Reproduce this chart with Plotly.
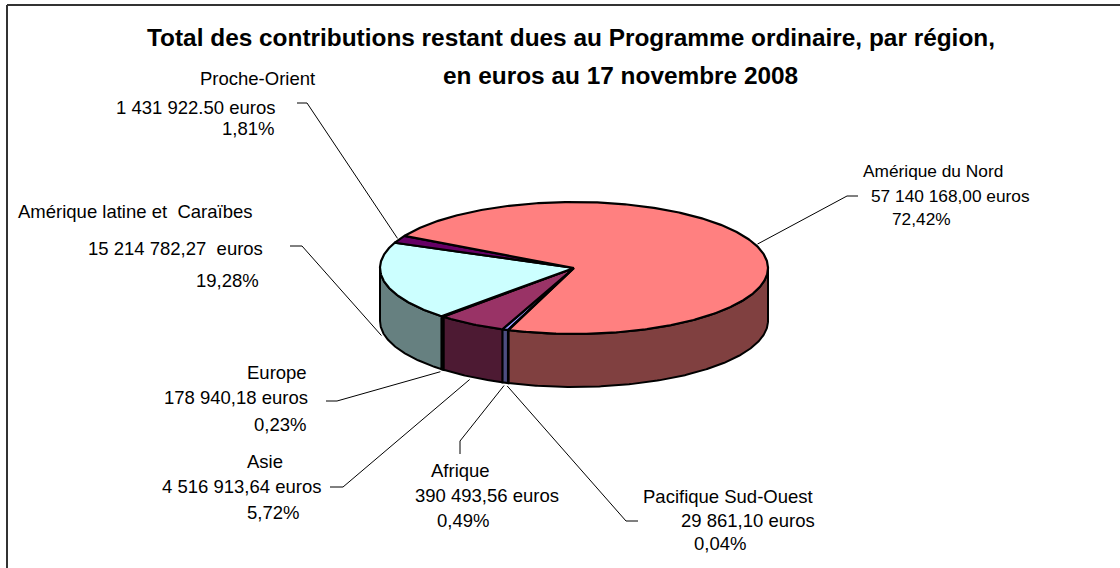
import math
import plotly.graph_objects as go

# ---------------- data ----------------
regions = ["Afrique", "Asie", "Europe", "Amérique latine et  Caraïbes",
           "Proche-Orient", "Amérique du Nord", "Pacifique Sud-Ouest"]
values = [390493.56, 4516913.64, 178940.18, 15214782.27,
          1431922.50, 57140168.00, 29861.10]
value_labels = ["390 493,56 euros", "4 516 913,64 euros", "178 940,18 euros",
                "15 214 782,27  euros", "1 431 922.50 euros",
                "57 140 168,00 euros", "29 861,10 euros"]
pct_labels = ["0,49%", "5,72%", "0,23%", "19,28%", "1,81%", "72,42%", "0,04%"]
top_colors = ["#9999FF", "#993366", "#FFFFCC", "#CCFFFF", "#660066", "#FF8080", "#0066CC"]
side_colors = ["#4D4D80", "#4D1A33", "#808066", "#668080", "#330033", "#804040", "#003366"]

title_line1 = "Total des contributions restant dues au Programme ordinaire, par région,"
title_line2 = "en euros au 17 novembre 2008"

# ---------------- geometry (pixel space) ----------------
W, H = 1120, 568
CX, CY = 574, 268      # pie centre
RA, RB = 194, 66       # ellipse semi-axes
DEPTH = 53
START = 199.9          # first slice start angle (deg, clockwise from back)

total = sum(values)
angles = []
acc = START
for v in values:
    span = v / total * 360.0
    angles.append((acc, acc + span))
    acc += span


def pt(theta, dy=0.0, ea=0.0, eb=0.0):
    t = math.radians(theta)
    return CX + (RA + ea) * math.sin(t), CY - (RB + eb) * math.cos(t) + dy


def arc(s, e, dy=0.0):
    n = max(2, int(abs(e - s) * 2) + 2)
    xs, ys = [], []
    for i in range(n + 1):
        th = s + (e - s) * i / n
        x, y = pt(th, dy)
        xs.append(x)
        ys.append(y)
    return xs, ys


fig = go.Figure()

# side walls (front-facing part of the cylinder: 90..270 deg)
for i, (s, e) in enumerate(angles):
    for k in (0, 1):
        lo, hi = max(s, 90 + 360 * k), min(e, 270 + 360 * k)
        if hi > lo:
            tx, ty = arc(lo, hi)
            bx, by = arc(hi, lo, DEPTH)
            fig.add_trace(go.Scatter(
                x=tx + bx + [tx[0]], y=ty + by + [ty[0]],
                mode="lines", fill="toself", fillcolor=side_colors[i],
                line=dict(color="black", width=2), hoverinfo="skip"))

# top faces
for i, (s, e) in enumerate(angles):
    ax, ay = arc(s, e)
    fig.add_trace(go.Scatter(
        x=[CX] + ax + [CX], y=[CY] + ay + [CY],
        mode="lines", fill="toself", fillcolor=top_colors[i],
        line=dict(color="black", width=2.2), hoverinfo="skip"))

# ---------------- labels (layout positions) ----------------
FS = 18.5
label_layout = {
    # region: [(centre x, baseline y) for name, value, pct], elbow points, font size
    "Afrique": ([(460, 477), (487, 502), (463, 527)], [(460, 454), (460, 441)], FS),
    "Asie": ([(265, 468), (241, 493), (273, 519)], [(330, 487), (343, 487)], FS),
    "Europe": ([(277, 379), (236, 404), (280, 431)], [(326, 401), (337, 401)], FS),
    "Amérique latine et  Caraïbes": ([(135, 218), (175, 255), (227, 287)], [(290, 246), (302, 246)], FS),
    "Proche-Orient": ([(257, 85), (195, 114), (248, 135)], [(297, 103), (307, 103)], FS),
    "Amérique du Nord": ([(933, 177), (950, 202), (921, 225)], [(858, 196), (847, 196)], 17.3),
    "Pacifique Sud-Ouest": ([(728, 503), (748, 527), (720, 550)], [(638, 521), (626, 521)], FS),
}

annotations = []
for i, r in enumerate(regions):
    lines, elbow, fs = label_layout[r]
    texts = [r, value_labels[i], pct_labels[i]]
    for (lx, ly), t in zip(lines, texts):
        annotations.append(dict(
            x=lx, y=ly - 0.3465 * fs, xref="x", yref="y", text=t, showarrow=False,
            xanchor="center", yanchor="middle",
            font=dict(family="Liberation Sans, Arial", size=fs, color="black")))
    s, e = angles[i]
    mid = (s + e) / 2
    if math.cos(math.radians(mid)) < 0:
        ex, ey = pt(mid, DEPTH, 3, 3)
    else:
        ex, ey = pt(mid, 0, 2, 2)
    fig.add_trace(go.Scatter(
        x=[elbow[0][0], elbow[1][0], ex], y=[elbow[0][1], elbow[1][1], ey],
        mode="lines", line=dict(color="black", width=1), hoverinfo="skip"))

TFS = 24.4
annotations.append(dict(x=571, y=46 - 0.3465 * TFS, xref="x", yref="y", text="<b>" + title_line1 + "</b>",
                        showarrow=False, xanchor="center", yanchor="middle",
                        font=dict(family="Liberation Sans, Arial", size=TFS, color="black")))
annotations.append(dict(x=620, y=84 - 0.3465 * TFS, xref="x", yref="y", text="<b>" + title_line2 + "</b>",
                        showarrow=False, xanchor="center", yanchor="middle",
                        font=dict(family="Liberation Sans, Arial", size=TFS, color="black")))

fig.update_layout(
    width=W, height=H,
    margin=dict(l=0, r=0, t=0, b=0),
    paper_bgcolor="white", plot_bgcolor="white",
    showlegend=False, hovermode=False,
    xaxis=dict(range=[0, W], visible=False, fixedrange=True),
    yaxis=dict(range=[H, 0], visible=False, fixedrange=True),
    annotations=annotations,
    shapes=[
        dict(type="line", xref="x", yref="y", x0=7, y0=5, x1=7, y1=H + 5,
             line=dict(color="#333333", width=2)),
        dict(type="line", xref="x", yref="y", x0=7, y0=5, x1=W + 5, y1=5,
             line=dict(color="#333333", width=2)),
    ],
)

fig.write_html("out.html", config={"displayModeBar": False},
               post_script="document.body.style.margin='0px';document.body.style.overflow='hidden';")
